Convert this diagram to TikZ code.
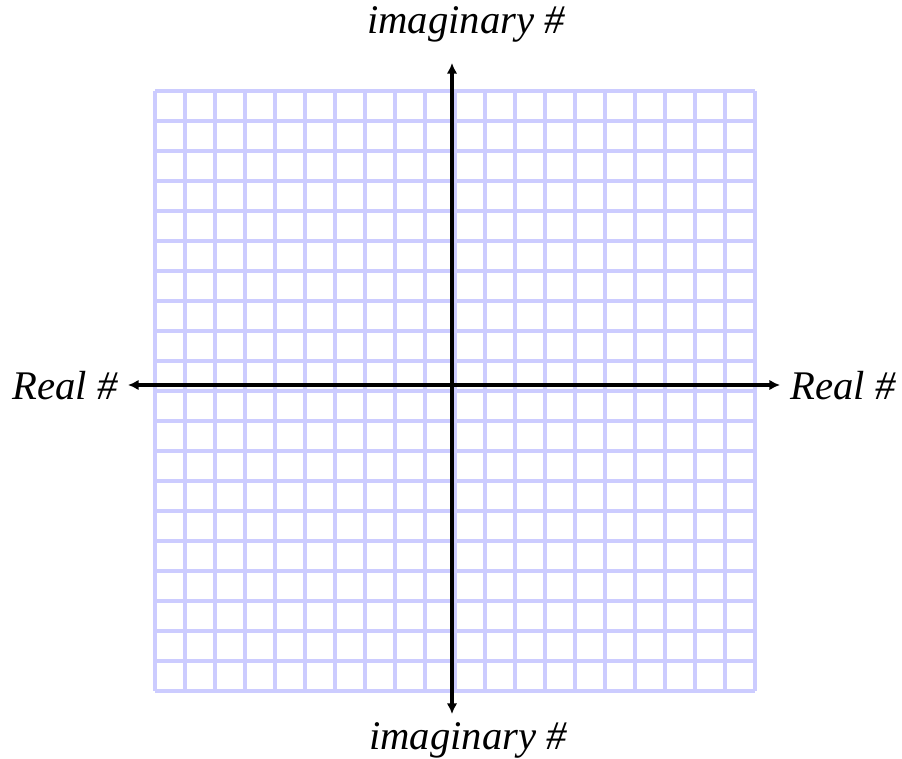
\documentclass[tikz,border=0pt]{standalone}
\usepackage{fontspec}
\setmainfont{Liberation Serif}
\usepackage{tikz}
\usetikzlibrary{arrows.meta, positioning, calc}

\begin{document}
\begin{tikzpicture}[
    x=0.75pt, y=-0.75pt,
    gridline/.style={draw=blue!20, line width=2.8pt},
    axis/.style={draw=black, line width=2.4pt, {Latex[length=8pt, width=8pt]}-{Latex[length=8pt, width=8pt]}},
    lbl/.style={font=\fontsize{30.5}{36}\selectfont\itshape, inner sep=0pt}
]
\useasboundingbox (0,0) rectangle (902,759);

% grid
\foreach \i in {0,...,20} {
    \draw[gridline] (155+30*\i, 91) -- (155+30*\i, 691);
    \draw[gridline] (155, 91+30*\i) -- (755, 91+30*\i);
}

% axis ends
\coordinate (xl) at (128, 385);
\coordinate (xr) at (780, 385);
\coordinate (yt) at (452, 63);
\coordinate (yb) at (452, 714);

\draw[axis] (xl) -- (xr);
\draw[axis] (yb) -- (yt);

% labels
\node[lbl] (imtop) at (466, 24) {imaginary \#};
\node[lbl] (imbot) at (468, 740) {imaginary \#};
\node[lbl] (rleft) at (65, 386) {Real \#};
\node[lbl] (rright) at (843, 386) {Real \#};
\end{tikzpicture}
\end{document}
